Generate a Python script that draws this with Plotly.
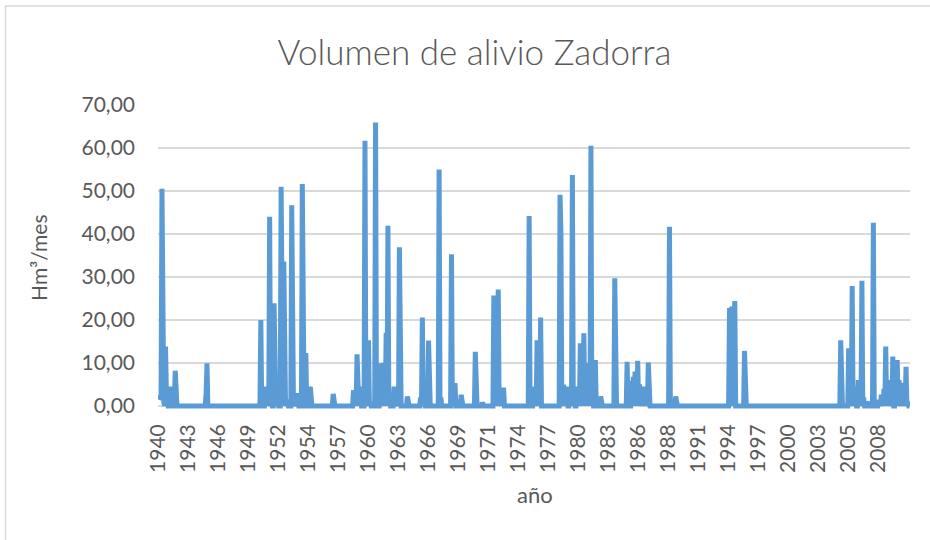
import plotly.graph_objects as go

# Monthly series, hydrological months starting October 1940 (852 months, 1940-41 .. 2010-11)
n_months = 852
start_year = 1940
start_month = 10
tick_step = 34  # one category label every 34 months
n_tick_labels = 25

# Non-zero monthly volumes (Hm3/mes): month index from Oct 1940, value
event_month = [0, 1, 2, 3, 4, 5, 6, 8, 9, 10, 13, 19,
               54, 55,
               116, 118, 121, 124, 126, 128, 131, 134, 139, 140, 142, 145, 151, 154, 157, 163, 164, 167, 169, 172,
               198,
               221, 223, 225, 228, 234, 236, 238, 240, 246, 248, 251, 252, 255, 258, 260, 262, 267, 270, 273, 282,
               297, 299, 301, 304, 306, 318, 320, 332, 334, 336, 343, 359, 367,
               380, 382, 384, 385, 387, 389, 391,
               420, 422, 425, 427, 429, 431, 433,
               455, 456, 458, 459, 461, 463, 466, 469, 471, 474, 476, 478, 480, 482, 484, 486, 488, 490, 492, 495, 497, 501,
               517, 531, 533, 536, 538, 540, 543, 545, 548, 550, 552, 555,
               579, 581, 586,
               647, 649, 650, 652, 653, 664,
               773, 782, 784, 786, 788, 790, 793, 795, 797, 799, 803, 810, 812, 816, 819,
               822, 824, 826, 828, 830, 832, 835, 837, 839, 842, 845, 847, 849]
event_value = [1.5, 2.0, 1.8, 2.5, 50.5, 3.0, 1.0, 13.8, 3.5, 1.2, 4.5, 8.2,
               3.0, 9.9,
               20.0, 1.5, 4.5, 2.0, 44.0, 2.0, 23.9, 1.5, 51.0, 3.0, 33.6, 1.5, 46.7, 1.0, 3.0, 51.6, 4.0, 12.3, 1.5, 4.5,
               2.8,
               3.7, 2.0, 12.0, 4.5, 61.7, 2.0, 15.3, 1.0, 65.9, 2.0, 9.9, 5.0, 10.0, 17.0, 41.9, 3.0, 4.5, 1.5, 36.9, 2.2,
               2.0, 20.6, 1.5, 3.0, 15.2, 55.0, 2.0, 35.3, 1.5, 5.3, 2.6, 12.6, 0.8,
               25.7, 4.0, 26.0, 27.1, 3.0, 4.0, 4.3,
               44.2, 2.0, 4.5, 3.0, 15.3, 4.0, 20.6,
               49.1, 40.5, 3.0, 5.0, 4.0, 4.5, 2.0, 53.7, 2.0, 4.5, 3.0, 14.6, 5.0, 16.9, 8.0, 5.0, 10.0, 60.5, 5.0, 10.7, 1.5, 2.2,
               29.7, 10.3, 4.0, 5.8, 6.8, 8.0, 10.5, 5.0, 4.5, 4.5, 3.0, 10.1,
               41.7, 1.5, 2.2,
               22.8, 22.5, 23.0, 24.4, 24.4, 12.8,
               15.3, 13.4, 3.0, 27.9, 2.0, 4.5, 6.0, 2.0, 29.1, 2.0, 1.0, 42.6, 1.0, 1.4, 2.6,
               4.0, 13.8, 5.0, 3.7, 6.0, 11.5, 10.5, 10.7, 6.0, 5.4, 5.4, 9.1, 1.0]

# Build full monthly series (months without spill are 0)
volume = [0.0] * n_months
for m, v in zip(event_month, event_value):
    volume[m] = v

months = list(range(n_months))
tick_vals = [k * tick_step for k in range(n_tick_labels)]
tick_text = [str(start_year + (start_month - 1 + t) // 12) for t in tick_vals]

y_ticks = [0, 10, 20, 30, 40, 50, 60, 70]
y_tick_text = [f"{v:.2f}".replace(".", ",") for v in y_ticks]

text_color = "#595959"
grid_color = "#D9D9D9"
line_color = "#5B9BD5"
font_family = "Lato, Open Sans, sans-serif"

# layout geometry (pixels)
W, H = 930, 540
L, R, T = 158, 20, 105
plot_w = W - L - R
y_min, y_max = -0.7, 70
px_per_unit = (406 - 105) / 70.0
plot_h = round((y_max - y_min) * px_per_unit)
B = H - T - plot_h

def px_x(px):
    return (px - L) / plot_w

def px_y(py):
    return (T + plot_h - py) / plot_h

fig = go.Figure()
fig.add_trace(go.Scatter(
    x=months, y=volume, mode="lines",
    line=dict(color=line_color, width=5, shape="linear"),
    hoverinfo="skip", showlegend=False,
))

fig.update_layout(
    width=W, height=H,
    margin=dict(l=L, r=R, t=T, b=B, pad=0),
    paper_bgcolor="white", plot_bgcolor="white",
    font=dict(family=font_family, color=text_color, size=21),
    title=dict(text="Volumen de alivio Zadorra", x=474.5 / W, xref="container", xanchor="center",
               y=1 - 53 / H, yref="container", yanchor="middle",
               font=dict(family=font_family, size=35, color=text_color, weight=300)),
    xaxis=dict(range=[-0.5, n_months - 0.5], tickmode="array", tickvals=tick_vals, ticktext=tick_text,
               tickangle=-90, showgrid=False, zeroline=False, showline=False, ticks="",
               ticklabelstandoff=10, tickfont=dict(size=21, color=text_color)),
    yaxis=dict(range=[y_min, y_max], tickmode="array", tickvals=y_ticks, ticktext=y_tick_text,
               showgrid=True, gridcolor=grid_color, gridwidth=1.5, zeroline=False, showline=False,
               ticks="", ticklabelstandoff=22, tickfont=dict(size=21, color=text_color)),
    annotations=[
        dict(text="Hm³/mes", xref="paper", yref="paper", x=px_x(38), y=px_y(258),
             xanchor="center", yanchor="middle", textangle=-90, showarrow=False,
             font=dict(size=21, color=text_color, family=font_family)),
        dict(text="año", xref="paper", yref="paper", x=px_x(535), y=px_y(494),
             xanchor="center", yanchor="middle", showarrow=False,
             font=dict(size=22, color=text_color, family=font_family)),
    ],
    shapes=[
        dict(type="line", xref="paper", yref="paper", x0=px_x(5.5), x1=px_x(5.5), y0=px_y(6), y1=px_y(545),
             line=dict(color=grid_color, width=1.5)),
        dict(type="line", xref="paper", yref="paper", x0=px_x(5), x1=px_x(935), y0=px_y(6), y1=px_y(6),
             line=dict(color=grid_color, width=1.5)),
    ],
)

fig.write_html("out.html", config={"displayModeBar": False},
               post_script="document.body.style.margin='0px';")
